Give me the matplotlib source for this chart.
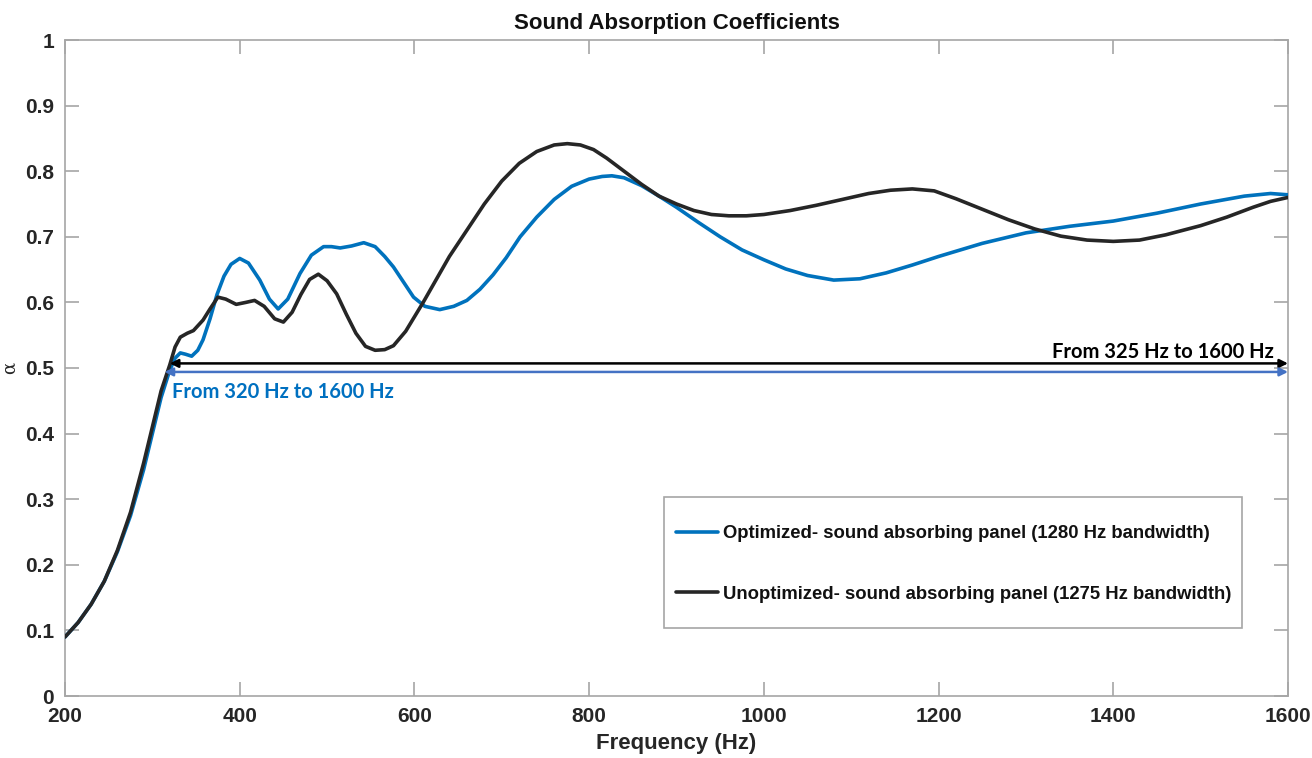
import matplotlib
matplotlib.use("Agg")
import matplotlib.pyplot as plt
from matplotlib.patches import Rectangle

# ---- data ----
opt_f = [200,215,230,245,260,275,290,300,310,320,326,332,338,345,352,358,366,374,382,390,400,410,423,434,444,455,469,482,496,505,515,528,542,555,566,576,588,599,612,629,645,660,675,690,705,721,740,760,780,800,815,826,840,860,880,900,925,950,975,1000,1025,1050,1080,1110,1140,1170,1200,1250,1300,1350,1400,1450,1500,1550,1580,1600]
opt_a = [0.090,0.112,0.140,0.175,0.220,0.275,0.345,0.400,0.455,0.497,0.515,0.523,0.521,0.518,0.527,0.543,0.575,0.612,0.640,0.658,0.667,0.660,0.634,0.605,0.590,0.605,0.644,0.672,0.685,0.685,0.683,0.686,0.691,0.685,0.670,0.654,0.630,0.608,0.594,0.589,0.594,0.603,0.620,0.642,0.668,0.700,0.730,0.757,0.777,0.788,0.792,0.793,0.790,0.778,0.762,0.745,0.722,0.700,0.680,0.665,0.651,0.641,0.634,0.636,0.645,0.657,0.670,0.690,0.706,0.716,0.724,0.736,0.750,0.762,0.766,0.764]

unopt_f = [200,215,230,245,260,275,290,300,310,320,326,332,340,347,358,366,375,384,396,407,417,428,440,450,460,470,480,490,500,511,522,533,544,555,566,576,590,600,610,625,640,660,680,700,720,740,760,775,790,805,820,840,860,880,900,920,940,960,980,1000,1030,1060,1090,1120,1145,1170,1195,1220,1250,1280,1310,1340,1370,1400,1430,1460,1500,1530,1560,1580,1600]
unopt_a = [0.090,0.112,0.140,0.175,0.222,0.280,0.355,0.410,0.465,0.505,0.532,0.547,0.553,0.557,0.573,0.590,0.608,0.605,0.597,0.600,0.603,0.594,0.575,0.570,0.585,0.612,0.635,0.643,0.633,0.613,0.582,0.553,0.533,0.527,0.528,0.534,0.556,0.578,0.600,0.635,0.670,0.710,0.750,0.785,0.812,0.830,0.840,0.842,0.840,0.833,0.820,0.800,0.780,0.762,0.750,0.740,0.734,0.732,0.732,0.734,0.740,0.748,0.757,0.766,0.771,0.773,0.770,0.758,0.742,0.726,0.712,0.701,0.695,0.693,0.695,0.703,0.717,0.730,0.745,0.754,0.760]

labels = ["Optimized- sound absorbing panel (1280 Hz bandwidth)",
          "Unoptimized- sound absorbing panel (1275 Hz bandwidth)"]
x_ticks = [200,400,600,800,1000,1200,1400,1600]
y_ticks = [0,0.1,0.2,0.3,0.4,0.5,0.6,0.7,0.8,0.9,1]
y_tick_labels = ["0","0.1","0.2","0.3","0.4","0.5","0.6","0.7","0.8","0.9","1"]
opt_band = (314, 1600, 0.494)
unopt_band = (320, 1600, 0.507)

BLUE = "#0072BD"
BLACK = "#262626"
AXC = "#a6a6a6"

plt.rcParams['font.family'] = ['Liberation Sans', 'DejaVu Sans']

fig = plt.figure(figsize=(13.12, 7.58), dpi=100)
ax = fig.add_axes([65/1312, 1-696/758, (1288-65)/1312, (696-40)/758])

l1, = ax.plot(opt_f, opt_a, color=BLUE, lw=2.6, solid_capstyle='round', solid_joinstyle='round', zorder=3)
l2, = ax.plot(unopt_f, unopt_a, color=BLACK, lw=2.6, solid_capstyle='round', solid_joinstyle='round', zorder=4)

ax.set_xlim(200, 1600)
ax.set_ylim(0, 1)
ax.set_xticks(x_ticks)
ax.set_xticklabels([str(t) for t in x_ticks])
ax.set_yticks(y_ticks)
ax.set_yticklabels(y_tick_labels)
for s in ax.spines.values():
    s.set_color(AXC)
    s.set_linewidth(1.2)
ax.tick_params(direction='in', length=10, width=1.2, color=AXC, top=True, right=True,
               labelsize=15, labelcolor="#262626", pad=8)
for t in ax.get_xticklabels() + ax.get_yticklabels():
    t.set_fontweight('bold')

ax.set_title("Sound Absorption Coefficients", fontsize=16, fontweight='bold', pad=8, color="#111111")
ax.set_xlabel("Frequency (Hz)", fontsize=16, fontweight='bold', color="#262626", labelpad=5)
ax.set_ylabel("α", fontsize=13, family=['DejaVu Serif'], color="#262626")
ax.yaxis.set_label_coords((19-65)/1223, 0.5)

# bandwidth arrows
ax.annotate("", xy=(unopt_band[1], unopt_band[2]), xytext=(unopt_band[0], unopt_band[2]),
            arrowprops=dict(arrowstyle='<|-|>', color='black', lw=1.8, mutation_scale=12,
                            shrinkA=0, shrinkB=0), zorder=5)
ax.annotate("", xy=(opt_band[1], opt_band[2]), xytext=(opt_band[0], opt_band[2]),
            arrowprops=dict(arrowstyle='<|-|>', color='#4472C4', lw=1.8, mutation_scale=12,
                            shrinkA=0, shrinkB=0), zorder=5)
ax.text(1584, 0.516, "From %d Hz to %d Hz" % (325, 1600), ha='right', va='baseline',
        fontsize=14.5, fontweight='bold', family=['Lato', 'DejaVu Sans'], color='black')
ax.text(323, 0.455, "From %d Hz to %d Hz" % (320, 1600), ha='left', va='baseline',
        fontsize=14.5, fontweight='bold', family=['Lato', 'DejaVu Sans'], color='#0070C0')

# legend
ax.add_patch(Rectangle(((664-65)/1223, (695.5-628)/655.8), 578/1223, 131/655.8,
                       transform=ax.transAxes, fill=True, facecolor='white',
                       edgecolor=AXC, lw=1.2, zorder=6))
leg = ax.legend([l1, l2], labels, loc='center left',
                bbox_to_anchor=((676-65)/1223, (695.5-563.5)/655.8),
                fontsize=13.3, frameon=False, handlelength=2.27,
                handletextpad=0.25, labelspacing=2.35, borderpad=0, borderaxespad=0)
leg.set_zorder(7)
for t in leg.get_texts():
    t.set_fontweight('bold')
    t.set_color('#111111')

fig.savefig("out.png", dpi=100, facecolor='white')
